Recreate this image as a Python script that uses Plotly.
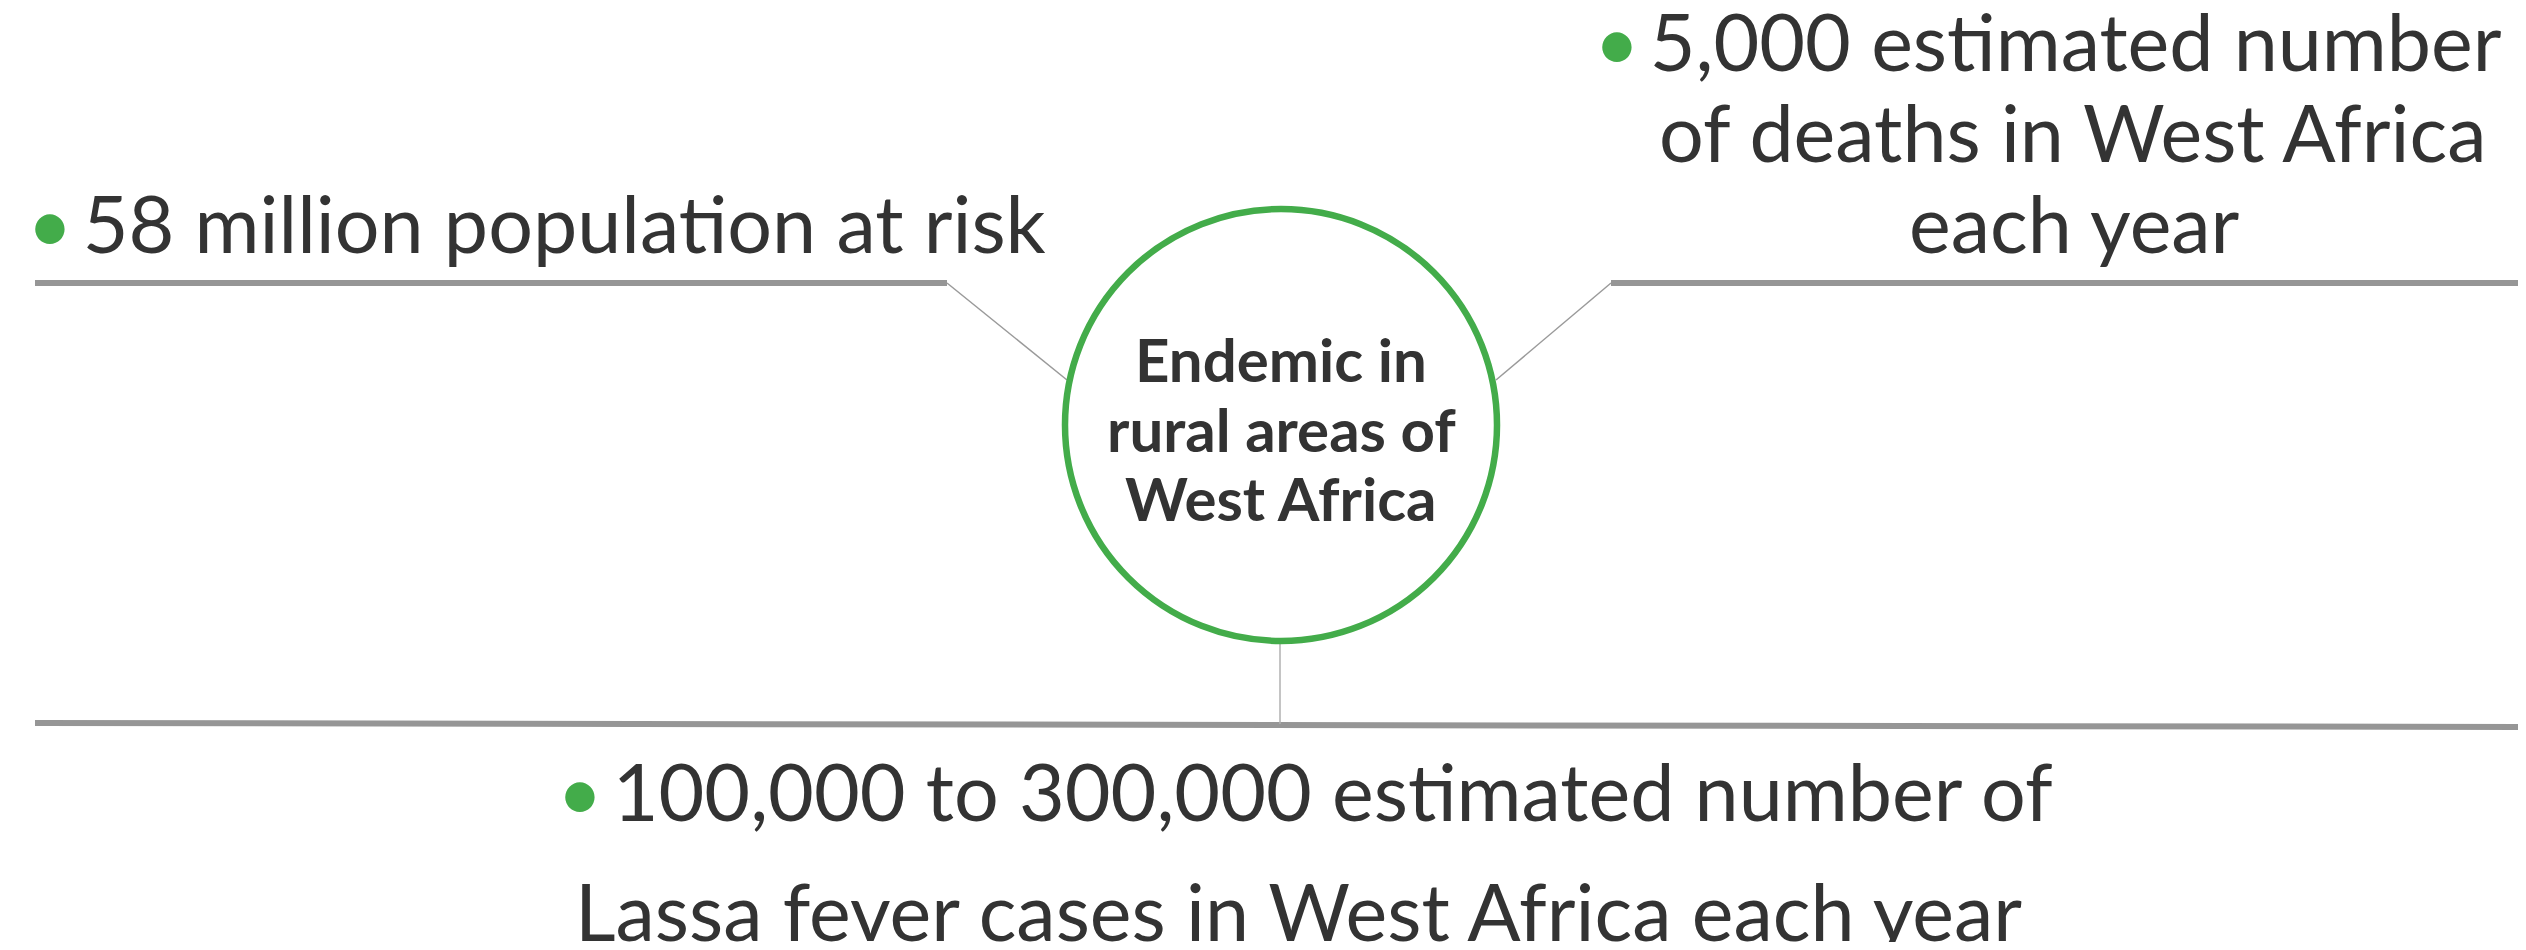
import plotly.graph_objects as go

# ---- content ----
center_label = ["Endemic in", "rural areas of", "West Africa"]
left_fact = ["58 million population at risk"]
right_fact = ["5,000 estimated number", "of deaths in West Africa", "each year"]
bottom_fact = ["100,000 to 300,000 estimated number of",
               "Lassa fever cases in West Africa each year"]

GREEN = "#43AC4A"
TEXT = "#333333"
GRAY = "#969696"
THIN = "#9a9a9a"
FONT = "Lato"
W, H = 2526, 950
PAD = 8  # page body margin

fig = go.Figure()
fig.add_trace(go.Scatter(x=[PAD, W - PAD], y=[PAD, H - PAD], mode="markers",
                         marker=dict(opacity=0), hoverinfo="skip", showlegend=False))

bullet = f"<span style='color:{GREEN}'>•</span>\u2009"

shapes = []
# thick gray rules
shapes.append(dict(type="line", x0=35, y0=283, x1=947, y1=283, line=dict(color=GRAY, width=6)))
shapes.append(dict(type="line", x0=1611, y0=283, x1=W, y1=283, line=dict(color=GRAY, width=6)))
shapes.append(dict(type="line", x0=35, y0=723, x1=W, y1=727, line=dict(color=GRAY, width=6)))
# thin connectors
shapes.append(dict(type="line", x0=947, y0=283, x1=1067, y1=380, line=dict(color=THIN, width=1.5)))
shapes.append(dict(type="line", x0=1496, y0=380, x1=1611, y1=283, line=dict(color=THIN, width=1.5)))
shapes.append(dict(type="line", x0=1280, y0=641, x1=1280, y1=724, line=dict(color="#b0b0b0", width=1.5)))
# circle
shapes.append(dict(type="circle", x0=1065, y0=209, x1=1497, y1=641,
                   line=dict(color=GREEN, width=6.5), fillcolor="white"))

ann = []
def add(text, x, y, size, xanchor="center", bold=False):
    ann.append(dict(text=(f"<b>{text}</b>" if bold else text), x=x, y=y, xref="x", yref="y",
                    xanchor=xanchor, yanchor="middle", showarrow=False,
                    font=dict(family=FONT, size=size, color=TEXT)))

# center label
for t, y in zip(center_label, [359, 429, 498]):
    add(t, 1281, y, 60, bold=True)

# left fact
add(bullet + left_fact[0], 25, 222, 79, xanchor="left")

# right fact
for i, (t, x, y) in enumerate(zip(right_fact, [2048, 2072, 2074], [40, 131, 222])):
    add((bullet + t) if i == 0 else t, x, y, 79)

# bottom fact
for i, (t, x, y) in enumerate(zip(bottom_fact, [1305, 1298], [790, 910])):
    add((bullet + t) if i == 0 else t, x, y, 79)

fig.update_layout(
    width=W - 2 * PAD, height=H - 2 * PAD, margin=dict(l=0, r=0, t=0, b=0),
    paper_bgcolor="white", plot_bgcolor="white",
    xaxis=dict(range=[PAD, W - PAD], visible=False, fixedrange=True),
    yaxis=dict(range=[H - PAD, PAD], visible=False, fixedrange=True),
    shapes=shapes, annotations=ann, showlegend=False,
)
fig.write_html("out.html")
